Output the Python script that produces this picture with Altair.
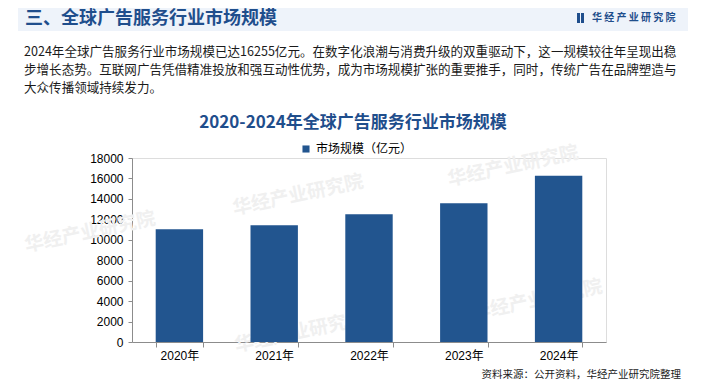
import altair as alt
import pandas as pd

# ---------------- data ----------------
years = ["2020年", "2021年", "2022年", "2023年", "2024年"]
values = [11030, 11420, 12500, 13580, 16255]
series_name = "市场规模（亿元）"
y_ticks = [0, 2000, 4000, 6000, 8000, 10000, 12000, 14000, 16000, 18000]

header_text = "三、全球广告服务行业市场规模"
brand_text = "华 经 产 业 研 究 院"
para_lines = [
    "2024年全球广告服务行业市场规模已达16255亿元。在数字化浪潮与消费升级的双重驱动下，这一规模较往年呈现出稳",
    "步增长态势。互联网广告凭借精准投放和强互动性优势，成为市场规模扩张的重要推手，同时，传统广告在品牌塑造与",
    "大众传播领域持续发力。",
]
chart_title = "2020-2024年全球广告服务行业市场规模"
source_text = "资料来源：公开资料，华经产业研究院整理"
watermark_text = "华经产业研究院"

# ---------------- style ----------------
BLUE = "#22558F"
TITLE_BLUE = "#1F4E8C"
CJK = "Noto Sans CJK SC"
MIX = "Liberation Sans, Noto Sans CJK SC"
PL, PT = 124, 150  # plot origin inside the canvas (page margin 8 added)
W, H = 474, 184


def ax(xabs):
    return xabs - 8 - PL


def ay(yabs):
    return yabs - 8 - PT


def text_layer(txt, x, y, size, color="#1a1a1a", weight="normal", align="left",
               font=CJK, angle=0, opacity=1.0):
    props = dict(fontSize=size, color=color, fontWeight=weight, align=align,
                 baseline="middle", font=font, opacity=opacity)
    if angle:
        props["angle"] = angle
    return alt.Chart(pd.DataFrame({"t": [txt]})).mark_text(**props).encode(
        x=alt.value(x), y=alt.value(y), text="t:N")


def rect_layer(x, x2, y, y2, color):
    return alt.Chart(pd.DataFrame({"a": [0]})).mark_rect(color=color).encode(
        x=alt.value(x), x2=alt.value(x2), y=alt.value(y), y2=alt.value(y2))


layers = []

# watermarks (very faint)
wm_pos = [(298, 195), (513, 166), (90, 232), (537, 300), (300, 332)]
for (wx, wy) in wm_pos:
    layers.append(text_layer(watermark_text, ax(wx), ay(wy), 19, color="#f0f0f0",
                             weight="bold", align="center", angle=348))

# header band
layers.append(rect_layer(ax(18), ax(688), ay(6), ay(31), "#EEF3FA"))
layers.append(text_layer(header_text, ax(25), ay(19), 18, color=TITLE_BLUE, weight="bold"))
layers.append(rect_layer(ax(577), ax(580), ay(13), ay(23), TITLE_BLUE))
layers.append(rect_layer(ax(581), ax(584), ay(13), ay(23), TITLE_BLUE))
layers.append(text_layer(brand_text, ax(592), ay(17.5), 10, color=TITLE_BLUE, weight="bold"))

# paragraph
for i, line in enumerate(para_lines):
    layers.append(text_layer(line, ax(24), ay(52 + i * 18.2), 12.55, color="#1a1a1a"))

# chart title
layers.append(text_layer(chart_title, ax(353), ay(123), 17, color=TITLE_BLUE,
                         weight="bold", align="center"))

# source
layers.append(text_layer(source_text, ax(681), ay(375), 10.5, color="#1a1a1a", align="right"))

df = pd.DataFrame({"year": years, "value": values, "series": [series_name] * len(years)})

bars = alt.Chart(df).mark_bar(color=BLUE).encode(
    x=alt.X("year:N", sort=years,
            scale=alt.Scale(paddingInner=0.5, paddingOuter=0.25),
            axis=alt.Axis(title=None, labelAngle=0, labelFont=MIX, labelFontSize=12,
                          labelColor="#000000", domainColor="#8c8c8c", tickColor="#8c8c8c",
                          tickSize=5, tickBand="extent", labelPadding=3)),
    y=alt.Y("value:Q", scale=alt.Scale(domain=[0, 18000], nice=False),
            axis=alt.Axis(title=None, values=y_ticks, grid=False, labelFont="Liberation Sans",
                          labelFontSize=12, labelColor="#000000", domainColor="#8c8c8c",
                          tickColor="#8c8c8c", tickSize=4, labelPadding=5, format="d")),
    color=alt.Color("series:N", scale=alt.Scale(range=[BLUE]),
                    legend=alt.Legend(title=None, orient="none", legendX=ax(300), legendY=ay(143),
                                      symbolType="square", symbolSize=50, symbolStrokeWidth=0,
                                      labelFont=CJK, labelFontSize=12, labelColor="#000000",
                                      padding=0, labelOffset=4)),
)

layers.append(bars)

chart = alt.layer(*layers).properties(
    width=W, height=H,
    padding={"left": PL, "top": PT, "right": 90, "bottom": 42},
    autosize=alt.AutoSizeParams(type="none"),
).configure_view(stroke=None).configure(background="white")

chart.save("out.html", embed_options={"renderer": "svg", "actions": False})
